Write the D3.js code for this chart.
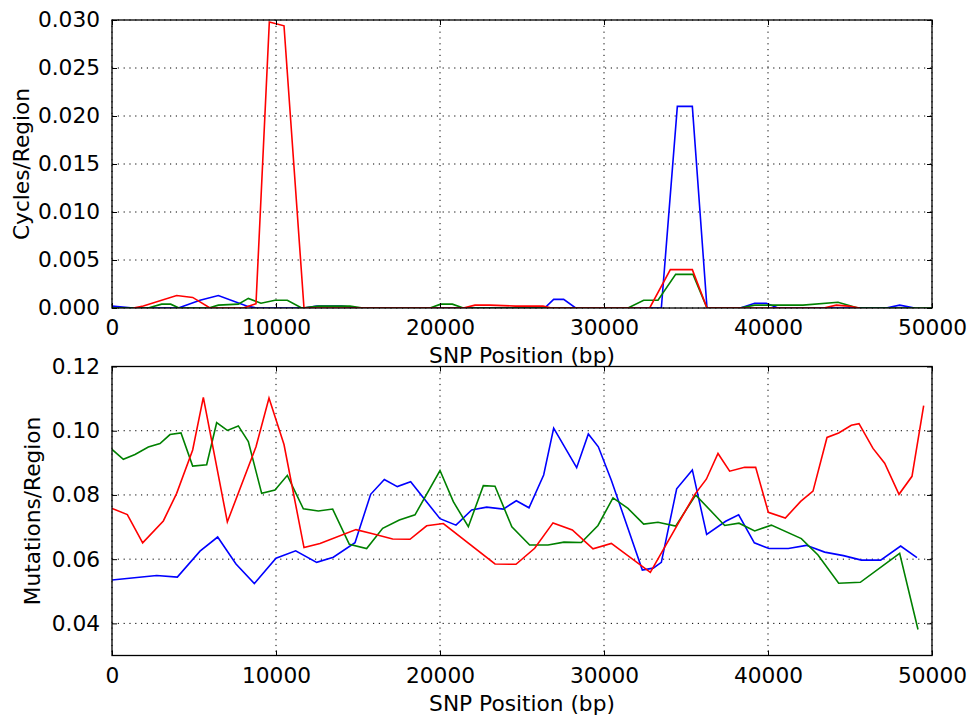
<!DOCTYPE html>
<html>
<head>
<meta charset="utf-8">
<script src="https://cdn.jsdelivr.net/npm/d3@7"></script>
<style>
body{margin:0;background:#fff;}
svg{font-family:"DejaVu Sans",sans-serif;}
</style>
</head>
<body>
<svg id="chart" width="973" height="719"></svg>
<script>
// ---- top panel : cycles per region ----
var cycBlueX=[0,1300,4045,5366,6484,8211,8800,11707,12480,14000,15000,26382,26931,27541,28272,33496,34472,35386,36280,38313,39187,39898,40610,47200,48028,48943];
var cycBlueY=[0.0002,0,0,0.0008,0.0013,0.0002,0,0,0.0002,0.0002,0,0,0.0009,0.0009,0,0,0.0210,0.0210,0,0,0.0005,0.0005,0,0,0.0003,0];
var cycGreenX=[0,2200,3028,3577,4085,5900,6484,7703,8313,9085,9939,10691,11565,12600,14512,15300,19390,20041,20752,21423,31463,32419,33293,34370,35427,36280,38272,39187,42134,44268,45488,50000];
var cycGreenY=[0,0,0.0004,0.0004,0,0,0.0003,0.0004,0.0010,0.0005,0.0008,0.0008,0,0.0002,0.0002,0,0,0.0004,0.0004,0,0,0.0008,0.0008,0.0035,0.0035,0,0,0.0003,0.0003,0.0006,0,0];
var cycRedX=[1300,1911,3943,4919,5976,8000,8780,9593,10488,11707,21423,22134,23049,24600,26280,26800,32785,34045,35386,36280,43400,44167,44900,45600];
var cycRedY=[0,0.0002,0.0013,0.0011,0,0,0.00045,0.0298,0.0294,0,0,0.0003,0.0003,0.0002,0.0002,0,0,0.0040,0.0040,0,0,0.0003,0.0002,0];

// ---- bottom panel : mutations per region ----
var mutBlueX=[0,2724,3984,5366,6443,7561,8679,10000,11199,12480,13496,14817,15772,16606,17398,18211,20000,20976,21931,22846,23862,24654,25427,26321,26931,28333,29045,29654,30447,32337,33000,33496,34431,35386,36260,37419,38211,39167,40061,41240,42337,43455,44600,45691,46870,48089,49085];
var mutBlueY=[0.0535,0.0549,0.0544,0.0625,0.0669,0.0585,0.0524,0.0603,0.0626,0.0590,0.0606,0.0651,0.0802,0.0848,0.0826,0.0841,0.0726,0.0706,0.0753,0.0762,0.0756,0.0782,0.0760,0.0862,0.1008,0.0885,0.0990,0.0950,0.0846,0.0566,0.0572,0.0590,0.0819,0.0878,0.0677,0.0718,0.0738,0.0651,0.0633,0.0633,0.0643,0.0622,0.0611,0.0597,0.0597,0.0641,0.0605];
var mutGreenX=[0,691,1402,2215,2927,3537,4207,4919,5772,6382,7033,7703,8313,9126,9939,10691,11667,12581,13455,14472,15528,16504,17520,18476,20000,20813,21728,22642,23354,24380,25467,26585,27561,28618,29634,30549,31463,32419,33293,34370,35589,37358,38232,39187,40203,42033,43049,44309,45630,48028,49146];
var mutGreenY=[0.0942,0.0911,0.0926,0.0949,0.0960,0.0988,0.0993,0.0890,0.0894,0.1025,0.1001,0.1015,0.0966,0.0805,0.0815,0.0861,0.0757,0.0750,0.0756,0.0646,0.0633,0.0696,0.0722,0.0738,0.0876,0.0779,0.0701,0.0829,0.0827,0.0701,0.0644,0.0644,0.0653,0.0652,0.0705,0.0791,0.0758,0.0709,0.0715,0.0703,0.0800,0.0705,0.0712,0.0688,0.0706,0.0664,0.0613,0.0525,0.0528,0.0618,0.0381];
var mutRedX=[0,935,1870,3130,3943,4919,5569,7033,8780,9573,10488,11707,12683,14878,15833,17114,18171,19187,20203,23354,24634,25772,26890,28069,29329,30447,32825,35528,36240,36951,37663,38577,39248,40020,41057,41992,42744,43598,44309,45081,45549,46402,47114,47988,48780,49492];
var mutRedY=[0.0758,0.0739,0.0651,0.0719,0.0805,0.0940,0.1104,0.0716,0.0950,0.1102,0.0957,0.0636,0.0649,0.0692,0.0680,0.0663,0.0662,0.0704,0.0711,0.0585,0.0584,0.0634,0.0713,0.0691,0.0632,0.0649,0.0559,0.0801,0.0849,0.0929,0.0874,0.0886,0.0886,0.0746,0.0728,0.0780,0.0812,0.0979,0.0993,0.1017,0.1022,0.0945,0.0899,0.0802,0.0858,0.1078];

var xTicks=[0,10000,20000,30000,40000,50000];
var cycTicks=[0,0.005,0.010,0.015,0.020,0.025,0.030];
var mutTicks=[0.04,0.06,0.08,0.10,0.12];

var svg=d3.select('#chart');
var left=112, right=932, fs=21.7;

function zip(xs,ys){return xs.map(function(x,i){return [x,ys[i]];});}

function panel(top,bottom,yDomain,yTicks,yFmt,yLabel,labelX,series){
	var x=d3.scaleLinear().domain([0,50000]).range([left,right]);
	var y=d3.scaleLinear().domain(yDomain).range([bottom,top]);
	var g=svg.append('g');
	// grid
	g.selectAll('.vg').data(xTicks).enter().append('line')
		.attr('x1',function(d){return x(d);}).attr('x2',function(d){return x(d);})
		.attr('y1',top).attr('y2',bottom)
		.attr('stroke','#000').attr('stroke-width',1).attr('stroke-dasharray','1.2,4.6');
	g.selectAll('.hg').data(yTicks).enter().append('line')
		.attr('x1',left).attr('x2',right)
		.attr('y1',function(d){return y(d);}).attr('y2',function(d){return y(d);})
		.attr('stroke','#000').attr('stroke-width',1).attr('stroke-dasharray','1.2,4.6');
	// lines
	var clipId='clip'+Math.round(top);
	svg.append('clipPath').attr('id',clipId).append('rect')
		.attr('x',left).attr('y',top).attr('width',right-left).attr('height',bottom-top);
	var line=d3.line().x(function(d){return x(d[0]);}).y(function(d){return y(d[1]);});
	series.forEach(function(s){
		g.append('path').datum(zip(s.x,s.y)).attr('d',line)
			.attr('fill','none').attr('stroke',s.c).attr('stroke-width',1.6)
			.attr('stroke-linejoin','miter').attr('clip-path','url(#'+clipId+')');
	});
	// axes, ticks pointing inward on all four sides
	var ax=g.append('g').attr('transform','translate(0,'+bottom+')')
		.call(d3.axisBottom(x).tickValues(xTicks).tickSize(-5).tickPadding(12).tickFormat(d3.format('d')));
	var axT=g.append('g').attr('transform','translate(0,'+top+')')
		.call(d3.axisTop(x).tickValues(xTicks).tickSize(-5).tickFormat(''));
	var ay=g.append('g').attr('transform','translate('+left+',0)')
		.call(d3.axisLeft(y).tickValues(yTicks).tickSize(-5).tickPadding(12).tickFormat(d3.format(yFmt)));
	var ayR=g.append('g').attr('transform','translate('+right+',0)')
		.call(d3.axisRight(y).tickValues(yTicks).tickSize(-5).tickFormat(''));
	[ax,axT,ay,ayR].forEach(function(a){
		a.select('.domain').remove();
		a.selectAll('line').attr('stroke','#000');
		a.selectAll('text').attr('font-size',fs).attr('fill','#000').attr('font-family','DejaVu Sans');
	});
	g.append('rect').attr('x',left).attr('y',top).attr('width',right-left).attr('height',bottom-top)
		.attr('fill','none').attr('stroke','#000').attr('stroke-width',1.3);
	g.append('text').attr('x',(left+right)/2).attr('y',bottom+55).attr('text-anchor','middle')
		.attr('font-size',fs).text('SNP Position (bp)');
	g.append('text').attr('transform','translate('+labelX+','+((top+bottom)/2)+') rotate(-90)')
		.attr('text-anchor','middle').attr('font-size',fs).text(yLabel);
}

panel(20,308,[0,0.030],cycTicks,'.3f','Cycles/Region',29,[
	{x:cycBlueX,y:cycBlueY,c:'#0000ff'},
	{x:cycGreenX,y:cycGreenY,c:'#008000'},
	{x:cycRedX,y:cycRedY,c:'#ff0000'}
]);
panel(366.5,655.5,[0.03,0.12],mutTicks,'.2f','Mutations/Region',40,[
	{x:mutBlueX,y:mutBlueY,c:'#0000ff'},
	{x:mutGreenX,y:mutGreenY,c:'#008000'},
	{x:mutRedX,y:mutRedY,c:'#ff0000'}
]);
</script>
</body>
</html>
